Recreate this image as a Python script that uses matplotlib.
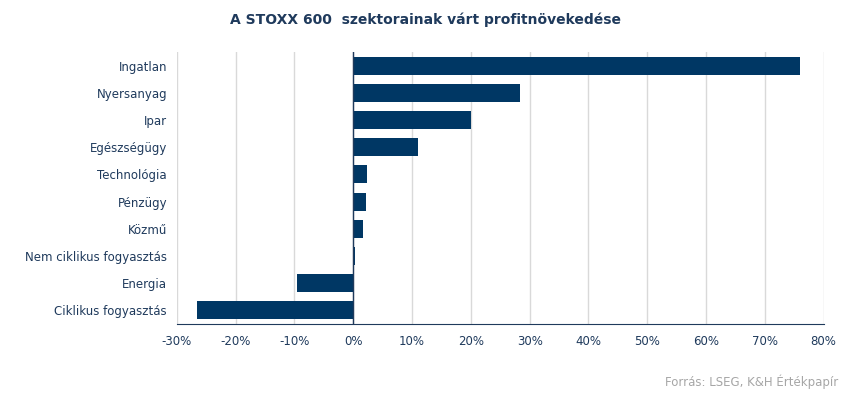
import matplotlib.pyplot as plt
from matplotlib.ticker import FuncFormatter

sectors = ["Ingatlan", "Nyersanyag", "Ipar", "Egészségügy", "Technológia",
           "Pénzügy", "Közmű", "Nem ciklikus fogyasztás", "Energia",
           "Ciklikus fogyasztás"]
growth = [75.9, 28.3, 20.0, 11.0, 2.3, 2.1, 1.6, 0.3, -9.6, -26.6]
xticks = list(range(-30, 81, 10))

navy = "#003764"
text_col = "#1f3a5c"

plt.rcParams["font.family"] = ["DejaVu Sans"]

fig = plt.figure(figsize=(8.5, 3.95), dpi=100)
ax = fig.add_axes([0.208, 0.180, 0.761, 0.688])

ax.barh(range(len(sectors)), growth, height=0.66, color=navy, zorder=3)
ax.set_ylim(len(sectors) - 0.5, -0.5)
ax.set_xlim(-30, 80)
ax.set_xticks(xticks)
ax.xaxis.set_major_formatter(FuncFormatter(lambda v, p: f"{v:.0f}%"))
ax.set_yticks(range(len(sectors)))
ax.set_yticklabels(sectors)

ax.grid(axis="x", color="#d9d9d9", linewidth=1, zorder=0)
ax.axvline(0, color=text_col, linewidth=1, zorder=4)
for s in ["top", "right", "left"]:
    ax.spines[s].set_visible(False)
ax.spines["bottom"].set_color(text_col)
ax.tick_params(axis="both", length=0, colors=text_col, labelsize=8.5)
ax.tick_params(axis="x", pad=8)
ax.tick_params(axis="y", pad=7)

fig.text(0.5, 0.95, "A STOXX 600  szektorainak várt profitnövekedése",
         ha="center", va="center", fontsize=10, fontweight="bold", color=text_col)
fig.text(0.986, 0.033, "Forrás: LSEG, K&H Értékpapír", ha="right", va="center",
         fontsize=8.5, color="#a6a6a6")

fig.savefig("out.png", dpi=100)
